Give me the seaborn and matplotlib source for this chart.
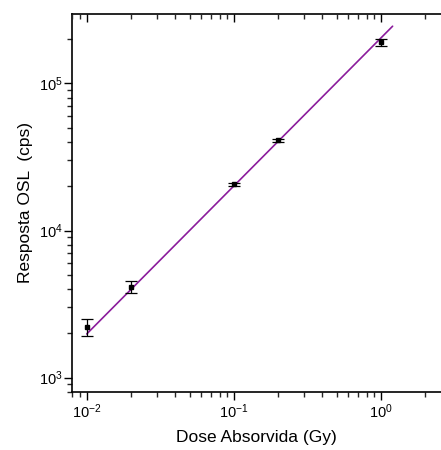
import numpy as np
import pandas as pd
import matplotlib
matplotlib.use("Agg")
import matplotlib.pyplot as plt
import seaborn as sns
from matplotlib.ticker import LogLocator, NullFormatter

sns.set_style("ticks")
plt.rcParams["font.family"] = ["Liberation Sans", "DejaVu Sans"]
plt.rcParams["mathtext.fontset"] = "custom"
plt.rcParams["mathtext.rm"] = "Liberation Sans"
plt.rcParams["mathtext.default"] = "regular"
plt.rcParams["axes.unicode_minus"] = False
plt.rcParams["text.color"] = "black"
plt.rcParams["axes.labelcolor"] = "black"

# measured points
dose = [0.01, 0.02, 0.1, 0.2, 1.0]
response = [2200, 4150, 20600, 41200, 190000]
response_err = [290, 400, 600, 1000, 11000]

# fitted line (end points)
fit_dose = [0.01, 1.2]
fit_response = [1980, 245000]

df = pd.DataFrame({"dose": dose, "response": response, "err": response_err})
fit = pd.DataFrame({"dose": fit_dose, "response": fit_response})

XLIM = (0.00798, 2.56)
YLIM = (793, 2.99e5)

fig = plt.figure(figsize=(4.41, 4.5), dpi=100)
ax = fig.add_axes([0.164, 0.128, 0.836, 0.842])

sns.lineplot(data=fit, x="dose", y="response", ax=ax, color="#8b1c9c", linewidth=1.2)
ax.errorbar(df["dose"], df["response"], yerr=df["err"], fmt="s", color="black",
            markersize=2.2, elinewidth=0.9, capsize=4, capthick=0.9)

ax.set_xscale("log")
ax.set_yscale("log")
ax.set_xlim(*XLIM)
ax.set_ylim(*YLIM)

for axis in (ax.xaxis, ax.yaxis):
    axis.set_major_locator(LogLocator(base=10))
    axis.set_minor_locator(LogLocator(base=10, subs=np.arange(2, 10)))
    axis.set_minor_formatter(NullFormatter())

ax.spines["right"].set_visible(False)
for s in ["left", "bottom", "top"]:
    ax.spines[s].set_linewidth(1.2)
    ax.spines[s].set_color("black")

ax.tick_params(axis="both", which="major", direction="out", length=5.5, width=1.0,
               labelsize=10.5, colors="black", pad=1.5)
ax.tick_params(axis="both", which="minor", direction="out", length=3.5, width=1.0)

# top axis with inward ticks
top = ax.twiny()
top.set_xscale("log")
top.set_xlim(*XLIM)
top.xaxis.set_major_locator(LogLocator(base=10))
top.xaxis.set_minor_locator(LogLocator(base=10, subs=np.arange(2, 10)))
top.tick_params(axis="x", which="major", direction="in", length=6, width=1.0,
                labeltop=False, colors="black")
top.tick_params(axis="x", which="minor", direction="in", length=3.5, width=1.0)
top.xaxis.set_minor_formatter(NullFormatter())
for s in top.spines.values():
    s.set_visible(False)

ax.set_xlabel("Dose Absorvida (Gy)", fontsize=12.5, labelpad=7)
ax.set_ylabel("Resposta OSL  (cps)", fontsize=12.5, labelpad=4.5)

fig.savefig("out.png", dpi=100)
